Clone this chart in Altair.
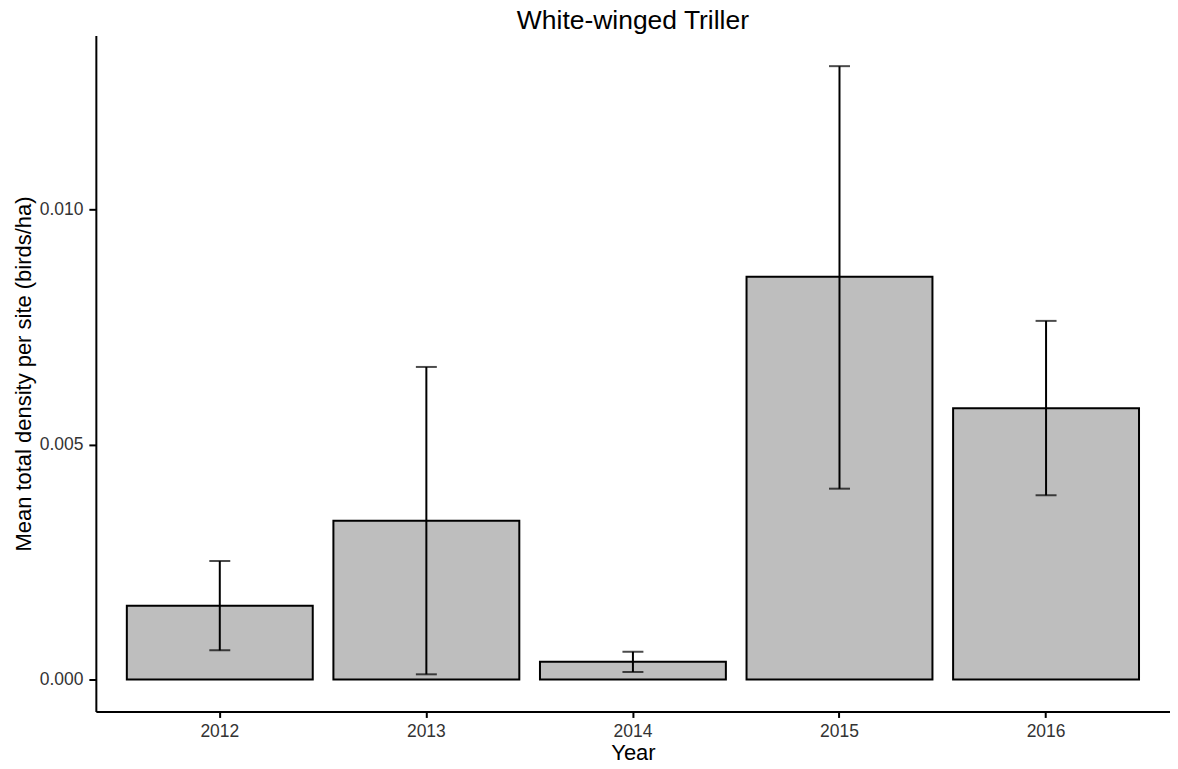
import altair as alt
import pandas as pd

years = ["2012", "2013", "2014", "2015", "2016"]
mean_density = [0.00157, 0.00338, 0.00038, 0.00857, 0.00577]
lower = [0.00062, 0.00011, 0.00016, 0.00406, 0.00392]
upper = [0.00252, 0.00665, 0.00059, 0.01305, 0.00763]
y_ticks = [0.0, 0.005, 0.010]

df = pd.DataFrame({"year": years, "mean": mean_density, "lo": lower, "hi": upper})

FONT = "Liberation Sans"

x_enc = alt.X(
    "year:N",
    title="Year",
    scale=alt.Scale(paddingInner=0.1, paddingOuter=0.15),
    axis=alt.Axis(
        labelAngle=0, labelFontSize=17.5, labelColor="#333333", labelFont=FONT,
        titleFontSize=22, titleColor="#000000", titleFont=FONT, titleFontWeight="normal",
        titlePadding=3, tickSize=6, tickWidth=2, tickColor="#000000",
        domainColor="#000000", domainWidth=2, labelPadding=5, grid=False,
    ),
)
y_scale = alt.Scale(domain=[-0.00068, 0.0137], nice=False, zero=False)

bars = alt.Chart(df).mark_bar(
    color="#BEBEBE", stroke="#000000", strokeWidth=2
).encode(
    x=x_enc,
    y=alt.Y(
        "mean:Q",
        title="Mean total density per site (birds/ha)",
        scale=y_scale,
        axis=alt.Axis(
            values=y_ticks, format=".3f", labelFontSize=17.5, labelColor="#333333",
            labelFont=FONT, titleFontSize=22, titleColor="#000000", titleFont=FONT,
            titleFontWeight="normal", titlePadding=4, tickSize=7, tickWidth=2,
            tickColor="#000000", domainColor="#000000", domainWidth=2,
            labelPadding=6, grid=False,
        ),
    ),
    y2=alt.datum(0),
)

rules = alt.Chart(df).mark_rule(color="#000000", strokeWidth=2).encode(
    x="year:N",
    y=alt.Y("lo:Q", scale=y_scale),
    y2="hi:Q",
)

caps_hi = alt.Chart(df).mark_tick(color="#000000", size=21, thickness=2).encode(
    x="year:N", y=alt.Y("hi:Q", scale=y_scale)
)
caps_lo = alt.Chart(df).mark_tick(color="#000000", size=21, thickness=2).encode(
    x="year:N", y=alt.Y("lo:Q", scale=y_scale)
)

chart = alt.layer(bars, rules, caps_hi, caps_lo).properties(
    width=1076,
    height=677,
    background="white",
    title=alt.TitleParams(
        "White-winged Triller", fontSize=26.5, font=FONT, fontWeight="normal",
        color="#000000", anchor="middle", offset=1,
    ),
    autosize=alt.AutoSizeParams(type="none"),
    padding={"left": 88, "top": 27, "right": 0, "bottom": 60},
).configure_view(
    strokeWidth=0, stroke="transparent"
).configure_axis(grid=False)

chart.save("out.html", embed_options={"renderer": "svg", "actions": False})
